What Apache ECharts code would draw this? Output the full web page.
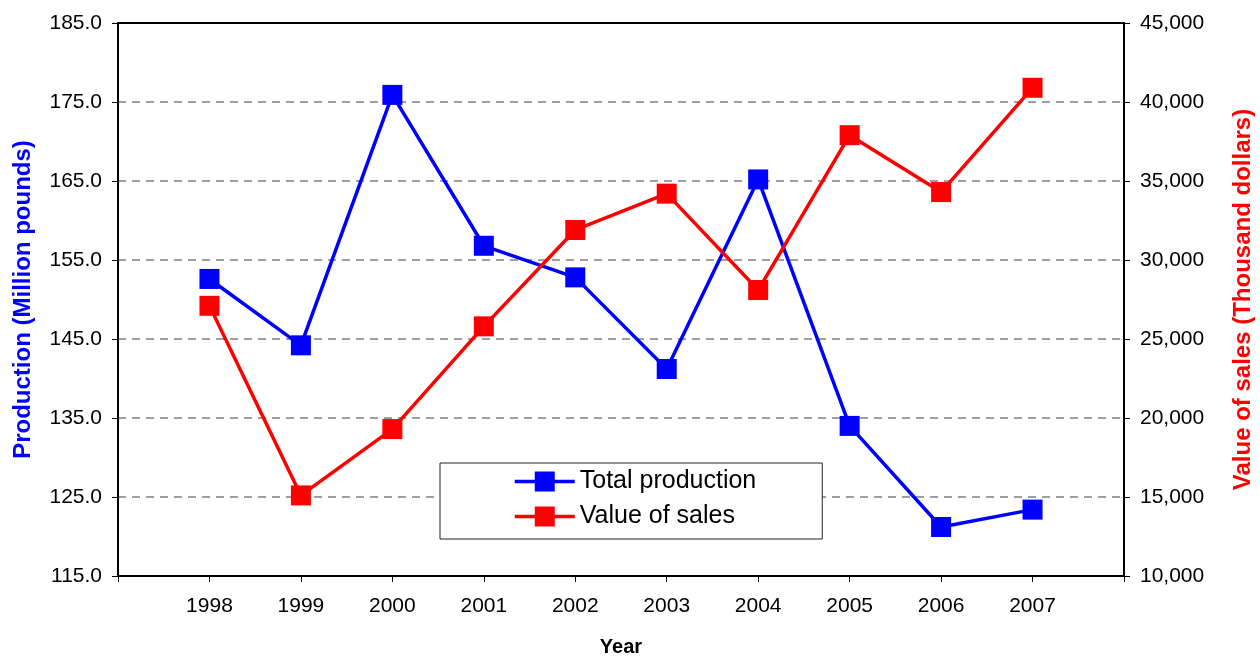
<!DOCTYPE html>
<html>
<head>
<meta charset="utf-8">
<script src="https://cdn.jsdelivr.net/npm/echarts@6/dist/echarts.min.js"></script>
<style>
html,body{margin:0;padding:0;background:#fff;}
#chart{width:1260px;height:658px;}
</style>
</head>
<body>
<div id="chart"></div>
<script>
const years = [1998, 1999, 2000, 2001, 2002, 2003, 2004, 2005, 2006, 2007];
const totalProduction = [152.6, 144.2, 175.9, 156.8, 152.8, 141.2, 165.2, 134.0, 121.2, 123.4];
const valueOfSales = [27100, 15100, 19300, 25800, 31900, 34200, 28100, 37900, 34300, 40900];
const seriesNames = ['Total production', 'Value of sales'];
const axisTitles = { x: 'Year', left: 'Production (Million pounds)', right: 'Value of sales (Thousand dollars)' };

const FONT = '"Liberation Sans", Arial, sans-serif';
const chart = echarts.init(document.getElementById('chart'), null, { renderer: 'canvas' });

function withCommas(v) {
  return String(Math.round(v)).replace(/\B(?=(\d{3})+(?!\d))/g, ',');
}

const option = {
  backgroundColor: '#ffffff',
  animation: false,
  textStyle: { fontFamily: FONT },
  grid: {
    left: 118, right: 136, top: 23, bottom: 82,
    containLabel: false, outerBoundsMode: 'none',
    show: true, borderColor: '#000', borderWidth: 2, backgroundColor: 'transparent'
  },
  legend: {
    orient: 'vertical',
    left: 440, top: 463,
    data: seriesNames,
    itemWidth: 60, itemHeight: 25, itemGap: 10,
    padding: [6, 66, 10, 73],
    backgroundColor: '#fff',
    borderColor: '#222', borderWidth: 1,
    lineStyle: { width: 3.5 },
    textStyle: { fontSize: 25, color: '#000', fontFamily: FONT }
  },
  xAxis: {
    type: 'value',
    min: 1997, max: 2008, interval: 1,
    name: axisTitles.x,
    nameLocation: 'middle', nameGap: 61,
    nameTextStyle: { fontSize: 20, fontWeight: 'bold', color: '#000', fontFamily: FONT },
    axisLine: { show: true, onZero: false, lineStyle: { color: '#000', width: 2 } },
    axisTick: { show: true, length: 6, lineStyle: { color: '#000', width: 1 } },
    axisLabel: {
      fontSize: 21, color: '#000', margin: 20, fontFamily: FONT,
      formatter: v => (years.indexOf(v) >= 0 ? String(v) : '')
    },
    splitLine: { show: false }
  },
  yAxis: [
    {
      type: 'value', position: 'left',
      min: 115, max: 185, interval: 10,
      name: axisTitles.left,
      nameLocation: 'middle', nameGap: 83, nameRotate: 90,
      nameTextStyle: { fontSize: 24, fontWeight: 'bold', color: '#0000FF', fontFamily: FONT },
      axisLine: { show: true, lineStyle: { color: '#000', width: 2 } },
      axisTick: { show: true, length: 6, lineStyle: { color: '#000', width: 1 } },
      axisLabel: { fontSize: 21, color: '#000', margin: 16, fontFamily: FONT, formatter: v => v.toFixed(1) },
      splitLine: { show: true, showMinLine: false, showMaxLine: false, lineStyle: { color: '#808080', width: 1.5, type: [8, 6] } }
    },
    {
      type: 'value', position: 'right',
      min: 10000, max: 45000, interval: 5000,
      name: axisTitles.right,
      nameLocation: 'middle', nameGap: 107, nameRotate: 90,
      nameTextStyle: { fontSize: 24, fontWeight: 'bold', color: '#FF0000', fontFamily: FONT },
      axisLine: { show: true, lineStyle: { color: '#000', width: 1.5 } },
      axisTick: { show: true, length: 6, lineStyle: { color: '#000', width: 1 } },
      axisLabel: { fontSize: 21, color: '#000', margin: 16, fontFamily: FONT, formatter: withCommas },
      splitLine: { show: false }
    }
  ],
  series: [
    {
      name: seriesNames[0], type: 'line', yAxisIndex: 0,
      data: years.map((y, i) => [y, totalProduction[i]]),
      symbol: 'rect', symbolSize: 20,
      lineStyle: { color: '#0000FF', width: 3.5 },
      itemStyle: { color: '#0000FF' },
      z: 3
    },
    {
      name: seriesNames[1], type: 'line', yAxisIndex: 1,
      data: years.map((y, i) => [y, valueOfSales[i]]),
      symbol: 'rect', symbolSize: 20,
      lineStyle: { color: '#FF0000', width: 3.5 },
      itemStyle: { color: '#FF0000' },
      z: 4
    }
  ]
};
chart.setOption(option);
</script>
</body>
</html>
